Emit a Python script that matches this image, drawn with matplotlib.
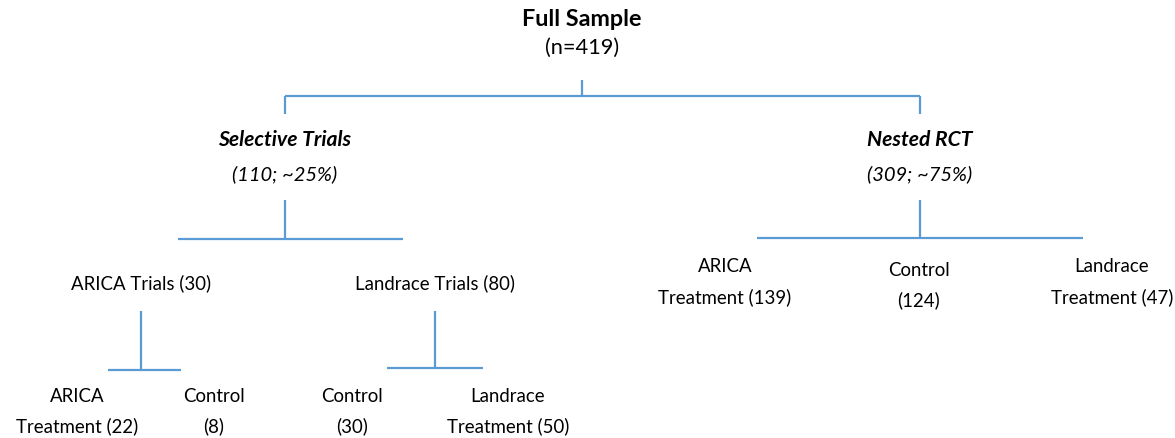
import matplotlib
matplotlib.use("Agg")
import matplotlib.pyplot as plt

# ---- data ----
total_n = 419
group_names = ["Selective Trials", "Nested RCT"]
group_counts = [110, 309]
group_shares = ["~25%", "~75%"]
trial_names = ["ARICA Trials", "Landrace Trials"]
trial_counts = [30, 80]
arica_arms = [("ARICA", "Treatment"), ("Control", "")]
arica_counts = [22, 8]
landrace_arms = [("Control", ""), ("Landrace", "Treatment")]
landrace_counts = [30, 50]
rct_arms = [("ARICA", "Treatment"), ("Control", ""), ("Landrace", "Treatment")]
rct_counts = [139, 124, 47]

# ---- layout ----
W, H = 1175, 438
fig = plt.figure(figsize=(W / 100, H / 100), dpi=100)
ax = fig.add_axes([0, 0, 1, 1])
ax.set_xlim(0, W)
ax.set_ylim(H, 0)
ax.axis("off")

LC = "#5B9BD5"
LW = 1.6
FONT = ["Lato", "DejaVu Sans"]
FS = 13.4

def line(xs, ys):
    ax.plot(xs, ys, color=LC, lw=LW, solid_capstyle="butt")

def txt(x, y, s, **kw):
    kw.setdefault("fontsize", FS)
    ax.text(x, y, s, ha="center", va="center", family=FONT, color="black", **kw)

def label2(x, y1, y2, name, sub, count):
    txt(x, y1, name)
    txt(x, y2, f"{sub} ({count})" if sub else f"({count})")

# root
txt(582, 20, "Full Sample", fontsize=16.8, fontweight="bold")
txt(582, 48, f"(n={total_n})", fontsize=15.7)
line([582, 582], [80, 96])
line([285, 920], [96, 96])
line([285, 285], [96, 114])
line([920, 920], [96, 114])

# groups
gx = [285, 920]
for x, name, c, s in zip(gx, group_names, group_counts, group_shares):
    txt(x, 140, name, fontsize=15.2, fontweight="bold", style="italic")
    txt(x, 174, f"({c}; {s})", fontsize=14.5, style="italic")
    line([x, x], [200, 238])

# selective trials branch
line([178, 403], [239, 239])
tx = [141, 435]
for x, name, c in zip(tx, trial_names, trial_counts):
    txt(x, 283, f"{name} ({c})")
    line([x, x], [311, 369])
line([108, 181], [370, 370])
line([387, 483], [368, 368])

for x, (n, s), c in zip([77, 214], arica_arms, arica_counts):
    label2(x, 396, 426, n, s, c)
for x, (n, s), c in zip([352, 508], landrace_arms, landrace_counts):
    label2(x, 396, 426, n, s, c)

# nested RCT branch
line([757, 1083], [238, 238])
for x, (n, s), c, yo in zip([725, 919, 1112], rct_arms, rct_counts, [0, 3, 0]):
    label2(x, 267 + yo, 297 + yo, n, s, c)

fig.savefig("out.png", dpi=100, facecolor="white")
